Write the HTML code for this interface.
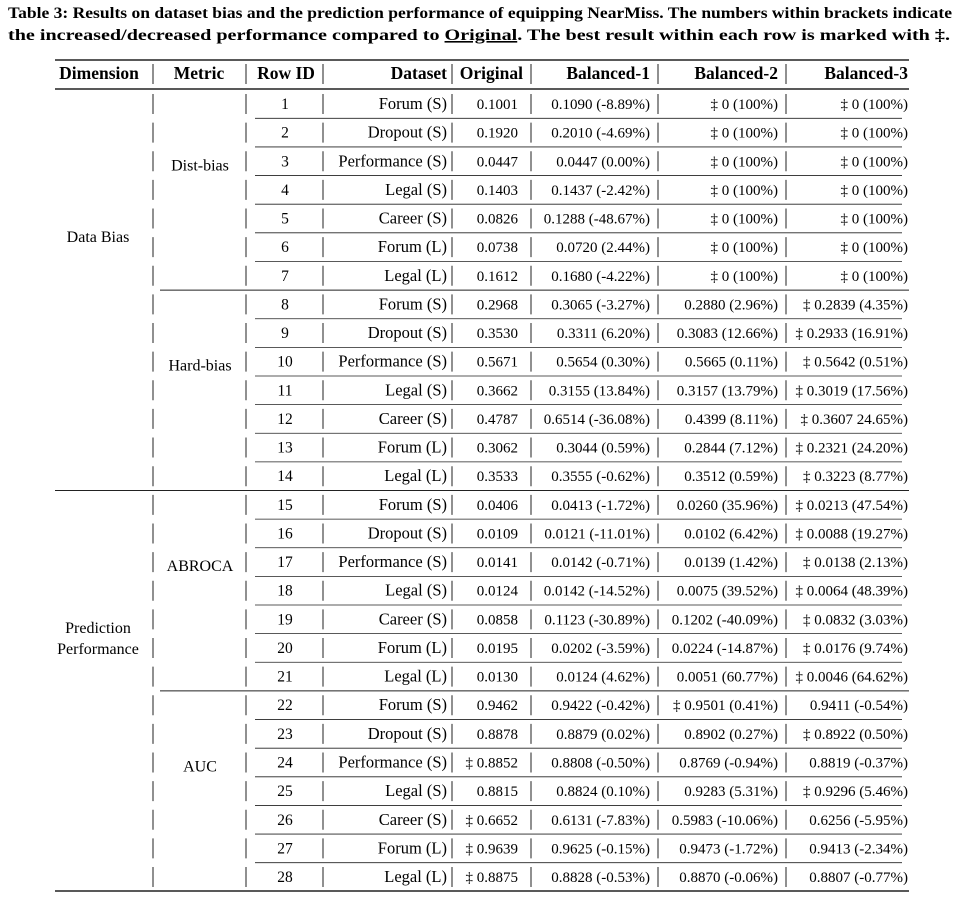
<!DOCTYPE html>
<html><head><meta charset="utf-8"><style>
html,body{margin:0;padding:0;background:#fff;}
svg{display:block;font-family:"Liberation Serif",serif;}
</style></head><body>
<svg id="t" width="962" height="910" viewBox="0 0 962 910" xmlns="http://www.w3.org/2000/svg">
<text x="8" y="18" font-size="16" font-weight="bold" textLength="944" lengthAdjust="spacingAndGlyphs">Table 3: Results on dataset bias and the prediction performance of equipping NearMiss. The numbers within brackets indicate</text>
<text x="8" y="40" font-size="16" font-weight="bold" textLength="942" lengthAdjust="spacingAndGlyphs">the increased/decreased performance compared to <tspan text-decoration="underline">Original</tspan>. The best result within each row is marked with ‡.</text>
</svg>
<script>
const datasets=["Forum (S)","Dropout (S)","Performance (S)","Legal (S)","Career (S)","Forum (L)","Legal (L)"];
const original=["0.1001","0.1920","0.0447","0.1403","0.0826","0.0738","0.1612","0.2968","0.3530","0.5671","0.3662","0.4787","0.3062","0.3533","0.0406","0.0109","0.0141","0.0124","0.0858","0.0195","0.0130","0.9462","0.8878","‡ 0.8852","0.8815","‡ 0.6652","‡ 0.9639","‡ 0.8875"];
const bal1=["0.1090 (-8.89%)","0.2010 (-4.69%)","0.0447 (0.00%)","0.1437 (-2.42%)","0.1288 (-48.67%)","0.0720 (2.44%)","0.1680 (-4.22%)","0.3065 (-3.27%)","0.3311 (6.20%)","0.5654 (0.30%)","0.3155 (13.84%)","0.6514 (-36.08%)","0.3044 (0.59%)","0.3555 (-0.62%)","0.0413 (-1.72%)","0.0121 (-11.01%)","0.0142 (-0.71%)","0.0142 (-14.52%)","0.1123 (-30.89%)","0.0202 (-3.59%)","0.0124 (4.62%)","0.9422 (-0.42%)","0.8879 (0.02%)","0.8808 (-0.50%)","0.8824 (0.10%)","0.6131 (-7.83%)","0.9625 (-0.15%)","0.8828 (-0.53%)"];
const bal2=["‡ 0 (100%)","‡ 0 (100%)","‡ 0 (100%)","‡ 0 (100%)","‡ 0 (100%)","‡ 0 (100%)","‡ 0 (100%)","0.2880 (2.96%)","0.3083 (12.66%)","0.5665 (0.11%)","0.3157 (13.79%)","0.4399 (8.11%)","0.2844 (7.12%)","0.3512 (0.59%)","0.0260 (35.96%)","0.0102 (6.42%)","0.0139 (1.42%)","0.0075 (39.52%)","0.1202 (-40.09%)","0.0224 (-14.87%)","0.0051 (60.77%)","‡ 0.9501 (0.41%)","0.8902 (0.27%)","0.8769 (-0.94%)","0.9283 (5.31%)","0.5983 (-10.06%)","0.9473 (-1.72%)","0.8870 (-0.06%)"];
const bal3=["‡ 0 (100%)","‡ 0 (100%)","‡ 0 (100%)","‡ 0 (100%)","‡ 0 (100%)","‡ 0 (100%)","‡ 0 (100%)","‡ 0.2839 (4.35%)","‡ 0.2933 (16.91%)","‡ 0.5642 (0.51%)","‡ 0.3019 (17.56%)","‡ 0.3607 24.65%)","‡ 0.2321 (24.20%)","‡ 0.3223 (8.77%)","‡ 0.0213 (47.54%)","‡ 0.0088 (19.27%)","‡ 0.0138 (2.13%)","‡ 0.0064 (48.39%)","‡ 0.0832 (3.03%)","‡ 0.0176 (9.74%)","‡ 0.0046 (64.62%)","0.9411 (-0.54%)","‡ 0.8922 (0.50%)","0.8819 (-0.37%)","‡ 0.9296 (5.46%)","0.6256 (-5.95%)","0.9413 (-2.34%)","0.8807 (-0.77%)"];
const metrics=["Dist-bias","Hard-bias","ABROCA","AUC"];
const svg=document.getElementById('t');
const NS="http://www.w3.org/2000/svg";
const y0=104,rh=28.63;
function txt(x,y,s,anchor,name,bold,fs){const e=document.createElementNS(NS,'text');e.setAttribute('x',x);e.setAttribute('y',y+5);e.setAttribute('font-size',fs||15);e.setAttribute('text-anchor',anchor);if(bold)e.setAttribute('font-weight','bold');e.textContent=s;


svg.appendChild(e);return e;}
function line(x1,y1,x2,y2,w,name){const e=document.createElementNS(NS,'line');e.setAttribute('x1',x1);e.setAttribute('y1',y1);e.setAttribute('x2',x2);e.setAttribute('y2',y2);e.setAttribute('stroke','#222');e.setAttribute('stroke-width',w);


svg.appendChild(e);}
const bars=[153,246,323,452,531,658,786];
line(55,60,909,60,1.5,'top-rule');
const hy=74;
txt(99,hy,'Dimension','middle','header-dimension',1,17.5);
txt(199,hy,'Metric','middle','header-metric',1,17.5);
txt(286,hy,'Row ID','middle','header-row-id',1,17.5);
txt(447,hy,'Dataset','end','header-dataset',1,17.5);
txt(523,hy,'Original','end','header-original',1,17.5);
txt(650,hy,'Balanced-1','end','header-balanced-1',1,17.5);
txt(778,hy,'Balanced-2','end','header-balanced-2',1,17.5);
txt(908,hy,'Balanced-3','end','header-balanced-3',1,17.5);
bars.forEach(b=>line(b,hy-10,b,hy+10,1,'column-separator'));
line(55,89,909,89,1.5,'header-rule');
for(let i=0;i<28;i++){
  const y=y0+i*rh;
  txt(285,y,String(i+1),'middle','row-id',0,15.5);
  txt(447,y,datasets[i%7],'end','dataset-cell',0,16.5);
  txt(518,y,original[i],'end','original-cell');
  txt(650,y,bal1[i],'end','balanced-1-cell');
  txt(778,y,bal2[i],'end','balanced-2-cell');
  txt(908,y,bal3[i],'end','balanced-3-cell');
  bars.forEach(b=>line(b,y-10,b,y+10,1,'column-separator'));
  if(i<27){
    const ly=y+rh/2;
    if(i===13) line(55,ly,909,ly,1,'section-rule');
    else if(i%7===6) line(160,ly,909,ly,1,'metric-rule');
    else line(255,ly,902,ly,0.8,'row-rule');
  }
}
metrics.forEach((m,k)=>txt(200,y0+(k*7+2)*rh+4,m,'middle','metric-label',0,16));
txt(98,y0+4.65*rh,'Data Bias','middle','dimension-data-bias',0,16);
txt(98,y0+18.65*rh-10,'Prediction','middle','dimension-prediction',0,16);
txt(98,y0+18.65*rh+11,'Performance','middle','dimension-performance',0,16);
line(55,891,909,891,1.5,'bottom-rule');
</script>
</body></html>
